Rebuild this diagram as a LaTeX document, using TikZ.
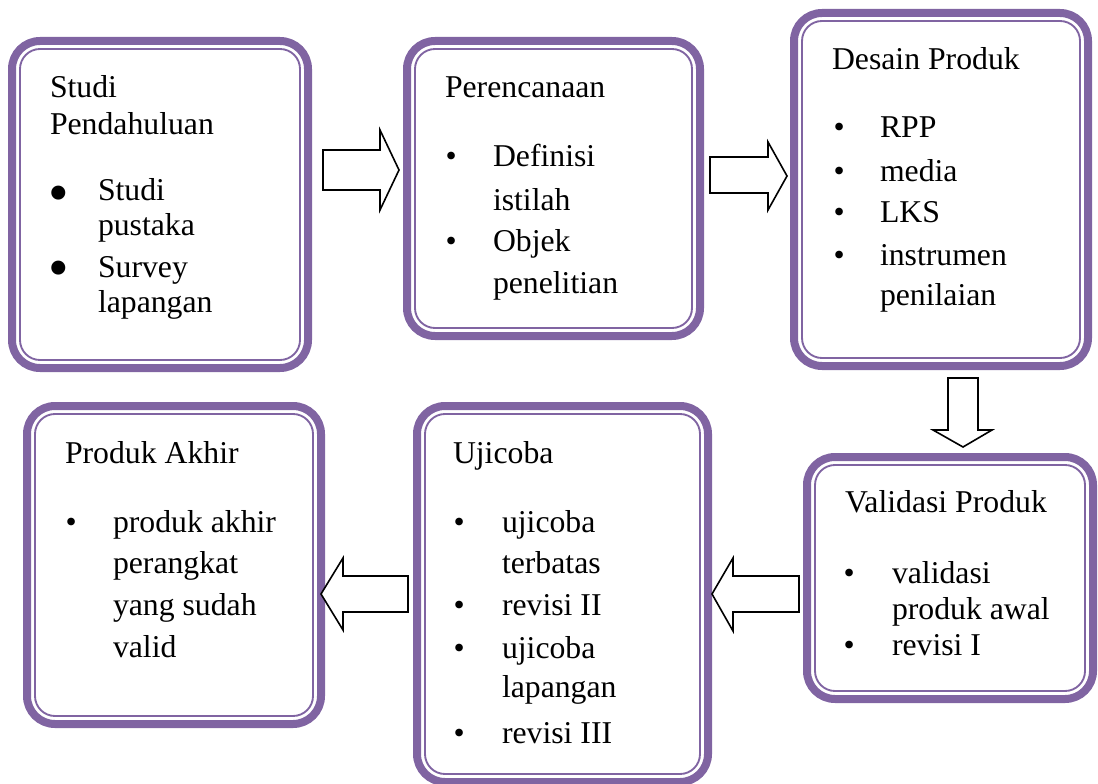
\documentclass[tikz,border=0pt]{standalone}
\usepackage{fontspec}
\setmainfont{Liberation Serif}
\definecolor{purp}{HTML}{8064A2}
\tikzset{
  obox/.style={draw=purp, line width=6pt, rounded corners=21pt, inner sep=0pt, outer sep=0pt},
  ibox/.style={draw=purp, line width=1.4pt, rounded corners=15pt, inner sep=0pt, outer sep=0pt},
  txt/.style={anchor=base west, inner sep=0pt, outer sep=0pt, font=\fontsize{23.8}{28}\selectfont},
  bul/.style={anchor=base west, inner sep=0pt, outer sep=0pt, font=\fontsize{23.8}{28}\selectfont},
  bigbul/.style={anchor=base west, inner sep=0pt, outer sep=0pt, font=\fontsize{44}{46}\selectfont},
  blockarrow/.style={draw=black, fill=white, line width=1.2pt, line join=miter}
}
\newcommand\pbox[5]{%
  \node[obox, minimum width={(#4-#2-8)*0.75pt}, minimum height={(#5-#3-8)*0.75pt}] (#1) at ({(#2+#4)/2},{(#3+#5)/2}) {};
  \node[ibox, minimum width={(#4-#2-24)*0.75pt}, minimum height={(#5-#3-24)*0.75pt}] (#1in) at (#1.center) {};
}
\begin{document}
\begin{tikzpicture}[x=0.75pt,y=-0.75pt]
\useasboundingbox (0,0) rectangle (1098,784);

% boxes
\pbox{studi}{8}{37}{312}{372}
\pbox{renc}{403}{37}{704}{340}
\pbox{desain}{790}{9}{1092}{370}
\pbox{valid}{803}{453}{1097}{703}
\pbox{uji}{413}{402}{712}{786}
\pbox{akhir}{23}{402}{325}{728}

% texts: Studi Pendahuluan
\foreach \x/\y/\t [count=\i] in {50/98/Studi, 50/135/Pendahuluan, 98/200/Studi, 98/235/pustaka, 98/277/Survey, 98/312/lapangan}
  \node[txt] (sp\i) at (\x,\y) {\t};
\foreach \y [count=\i] in {213,287}
  \node[bigbul] (spb\i) at (48,\y) {•};

% Perencanaan
\foreach \x/\y/\t [count=\i] in {445/98/Perencanaan, 493/167/Definisi, 493/210/istilah, 493/252/Objek, 493/293/penelitian}
  \node[txt] (pr\i) at (\x,\y) {\t};
\foreach \y [count=\i] in {167,252}
  \node[bul] (prb\i) at (445.5,\y) {•};

% Desain Produk
\foreach \x/\y/\t [count=\i] in {832/70/Desain Produk, 880/138/RPP, 880/182/media, 880/223/LKS, 880/265/instrumen, 880/305/penilaian}
  \node[txt] (dp\i) at (\x,\y) {\t};
\foreach \y [count=\i] in {138,182,223,265}
  \node[bul] (dpb\i) at (833.5,\y) {•};

% Validasi Produk
\foreach \x/\y/\t [count=\i] in {845/512/Validasi Produk, 892/583/validasi, 892/619/produk awal, 892/655/revisi I}
  \node[txt] (vp\i) at (\x,\y) {\t};
\foreach \y [count=\i] in {583,655}
  \node[bul] (vpb\i) at (843.5,\y) {•};

% Ujicoba
\foreach \x/\y/\t [count=\i] in {453/463/Ujicoba, 502/532/ujicoba, 502/573/terbatas, 502/615/revisi II, 502/658/ujicoba, 502/697/lapangan, 502/743/revisi III}
  \node[txt] (uj\i) at (\x,\y) {\t};
\foreach \y [count=\i] in {532,615,658,743}
  \node[bul] (ujb\i) at (453.5,\y) {•};

% Produk Akhir
\foreach \x/\y/\t [count=\i] in {65/463/Produk Akhir, 113/532/produk akhir, 113/573/perangkat, 113/615/yang sudah, 113/657/valid}
  \node[txt] (pa\i) at (\x,\y) {\t};
\node[bul] (pab1) at (65.5,532) {•};

% block arrows
\draw[blockarrow] (323,150) -- (380,150) -- (380,130) -- (399,170) -- (380,210) -- (380,190) -- (323,190) -- cycle;
\draw[blockarrow] (710,157) -- (768,157) -- (768,142) -- (787,176) -- (768,210) -- (768,193) -- (710,193) -- cycle;
\draw[blockarrow] (948,378) -- (978,378) -- (978,430) -- (992,430) -- (963,447) -- (933,430) -- (948,430) -- cycle;
\draw[blockarrow] (799,576) -- (733,576) -- (733,558) -- (712,594) -- (733,631) -- (733,612) -- (799,612) -- cycle;
\draw[blockarrow] (408,576) -- (343,576) -- (343,558) -- (321,594) -- (343,630) -- (343,612) -- (408,612) -- cycle;
\end{tikzpicture}
\end{document}
